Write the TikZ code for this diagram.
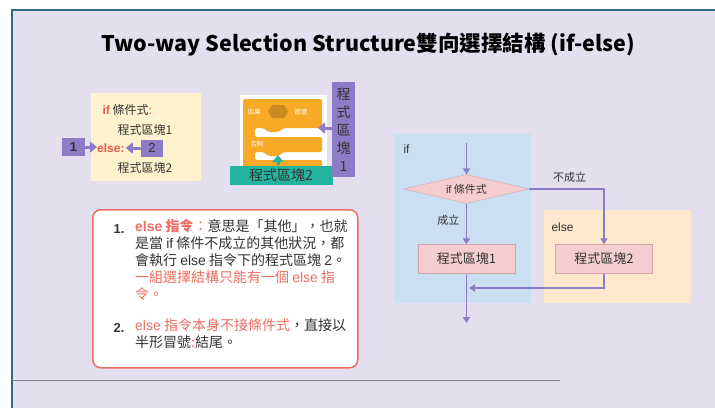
\documentclass[tikz,border=0pt]{standalone}
\usepackage{fontspec}
\setmainfont{Noto Sans CJK TC}
\newfontfamily\lat{Liberation Sans}
\usetikzlibrary{shapes.geometric,arrows.meta,positioning,calc}
\definecolor{slide}{HTML}{E3DFEE}
\definecolor{rim}{HTML}{2A6B8C}
\definecolor{pur}{HTML}{8C7CC6}
\definecolor{txt}{HTML}{333333}
\definecolor{hot}{HTML}{E8584C}
\definecolor{note}{HTML}{EE6E62}
\definecolor{codebg}{HTML}{FFF2CF}
\definecolor{ifbg}{HTML}{CBDFF2}
\definecolor{elsebg}{HTML}{FDE8CE}
\definecolor{pinkfill}{HTML}{F4CDD1}
\definecolor{pinkline}{HTML}{D9A3AB}
\definecolor{scr}{HTML}{F7A928}
\definecolor{scrdark}{HTML}{C98A1E}
\definecolor{teal}{HTML}{22B4A0}
\tikzset{
  flow/.style={draw=pur, line width=1.6pt, -{Triangle[length=6pt,width=7pt]}},
  fat/.style={line width=3pt, -{Triangle[length=7pt,width=11pt]}},
  blk/.style={draw=pinkline, fill=pinkfill, minimum width=97pt, minimum height=29pt,
    inner sep=0pt, text=txt, font=\fontsize{13}{13}\selectfont},
  tag/.style={fill=pur, inner sep=0pt, text=txt},
  lbl/.style={text=txt, font=\fontsize{11}{11}\selectfont},
}
\begin{document}
\begin{tikzpicture}[x=1pt, y=-1pt]
\useasboundingbox (0,0) rectangle (715,408);
% slide frame
\fill[white] (0,0) rectangle (715,408);
\fill[slide] (12,10) rectangle (715,408);
\draw[rim, line width=2pt] (12,408) -- (12,10) -- (715,10);
\draw[gray, line width=0.8pt] (12,380) -- (560,380);

\node[text=black, font=\bfseries\fontsize{21.5}{21.5}\selectfont] (title) at (368,45)
  {Two-way Selection Structure雙向選擇結構 (if-else)};

% code sample
\node[fill=codebg, minimum width=110pt, minimum height=88pt, anchor=north west] (code) at (91,93) {};
\node[anchor=base west, font=\fontsize{12}{12}\selectfont] (ifl) at (99,114)
  {\textcolor{hot}{\lat\bfseries if} \textcolor{txt}{條件式}\textcolor{hot}{:}};
\node[anchor=base west, text=txt, font=\fontsize{12}{12}\selectfont] (c1) at (114,134) {程式區塊1};
\node[anchor=base west, text=hot, font=\lat\bfseries\fontsize{12}{12}\selectfont, inner sep=0pt] (else) at (97,152) {else:};
\node[anchor=base west, text=txt, font=\fontsize{12}{12}\selectfont] (c2) at (114,172) {程式區塊2};
\node[tag, minimum width=23pt, minimum height=18pt, font=\lat\bfseries\fontsize{13}{13}\selectfont] (t1) at (73.5,147) {1};
\node[tag, minimum width=22pt, minimum height=17pt, font=\lat\fontsize{13}{13}\selectfont] (t2) at (152,148) {2};
\draw[fat, pur] (t1) -- (else.west |- t1);
\draw[fat, pur] (t2) -- ($(else.east |- t2)+(1,0)$);

% scratch style if-else block
\fill[white] (240,95) rectangle (327,184);
\fill[scr, rounded corners=2pt] (243,99) -- (322,99) -- (322,128) -- (283,128) -- (279,132)
  -- (268,132) -- (264,128) -- (255,128) -- (255,137) -- (322,137) -- (322,152)
  -- (283,152) -- (279,156) -- (268,156) -- (264,152) -- (255,152) -- (255,160)
  -- (322,160) -- (322,170) -- (243,170) -- cycle;
\fill[scrdark] (268,111.5) -- (272,105) -- (284,105) -- (288,111.5) -- (284,118) -- (272,118) -- cycle;
\node[text=white, font=\fontsize{6.5}{6.5}\selectfont, inner sep=0pt] (ru) at (254,112) {如果};
\node[text=white, font=\fontsize{6.5}{6.5}\selectfont, inner sep=0pt] (nm) at (301,112) {那麼};
\node[text=white, font=\fontsize{6.5}{6.5}\selectfont, inner sep=0pt] (fz) at (257,144.5) {否則};
\coordinate (gap1) at (318,128);
\coordinate (gap2) at (278,155);
\node[fill=teal, minimum width=103pt, minimum height=19pt, inner sep=0pt, text=txt,
  font=\fontsize{14}{14}\selectfont] (t2b) at (281,175) {程式區塊2};
\node[tag, minimum width=23pt, minimum height=95pt, align=center,
  font=\fontsize{14}{18}\selectfont] (t1b) at (343.5,129.5) {程\\式\\區\\塊\\1};
\draw[fat, pur] (t1b.west |- gap1) -- (gap1);
\draw[fat, teal] (t2b.north -| gap2) -- (gap2);

% notes
\node[draw=note, fill=white, line width=1.5pt, rounded corners=8pt, minimum width=265pt,
  minimum height=158pt, anchor=north west] (notes) at (92,209) {};
\node[anchor=base west, text=txt, font=\lat\bfseries\fontsize{13}{13}\selectfont] (n1) at (110,233) {1.};
\node[anchor=north west, align=left, inner sep=0pt, text=txt,
  font=\fontsize{14}{17}\selectfont] (n1t) at (135,219)
  {\textcolor{note}{{\lat\bfseries else} {\bfseries 指令}：}意思是「其他」，也就\\
   是當 {\lat if} 條件不成立的其他狀況，都\\
   會執行 {\lat else} 指令下的程式區塊 {\lat 2}。\\
   \textcolor{note}{一組選擇結構只能有一個 {\lat else} 指}\\
   \textcolor{note}{令。}};
\node[anchor=base west, text=txt, font=\lat\bfseries\fontsize{13}{13}\selectfont] (n2) at (110,332) {2.};
\node[anchor=north west, align=left, inner sep=0pt, text=txt,
  font=\fontsize{14}{17}\selectfont] (n2t) at (135,318)
  {\textcolor{note}{{\lat else} 指令本身不接條件式}，直接以\\
   半形冒號\textcolor{note}{:}結尾。};

% flowchart
\fill[ifbg] (394,134) rectangle (531,303);
\fill[elsebg] (544,210) rectangle (691,303);
\node[anchor=base west, text=txt, font=\lat\fontsize{12}{12}\selectfont] (ifz) at (400,153) {if};
\node[anchor=base west, text=txt, font=\lat\fontsize{12}{12}\selectfont] (elz) at (548,231) {else};
\coordinate (top) at (466.5,143);
\node[diamond, aspect=4.3, draw=pinkline, fill=pinkfill, minimum width=125pt, minimum height=29pt,
  inner sep=0pt, text=txt, font=\fontsize{11}{11}\selectfont] (cond) at (466.5,189) {{\lat if} 條件式};
\node[blk] (b1) at (466.5,259) {程式區塊1};
\node[blk] (b2) at (604,259) {程式區塊2};
\coordinate (mg) at (469,288);
\coordinate (bot) at (466.5,323);
\draw[flow] (top) -- (cond);
\draw[flow] (cond) -- node[lbl, left=3pt, pos=0.4] {成立} (b1);
\draw[flow] (cond.east) -| node[lbl, above=2pt, pos=0.27] {不成立} (b2);
\draw[flow] (b2.south) |- (mg);
\draw[flow] (b1) -- (bot);
\end{tikzpicture}
\end{document}
